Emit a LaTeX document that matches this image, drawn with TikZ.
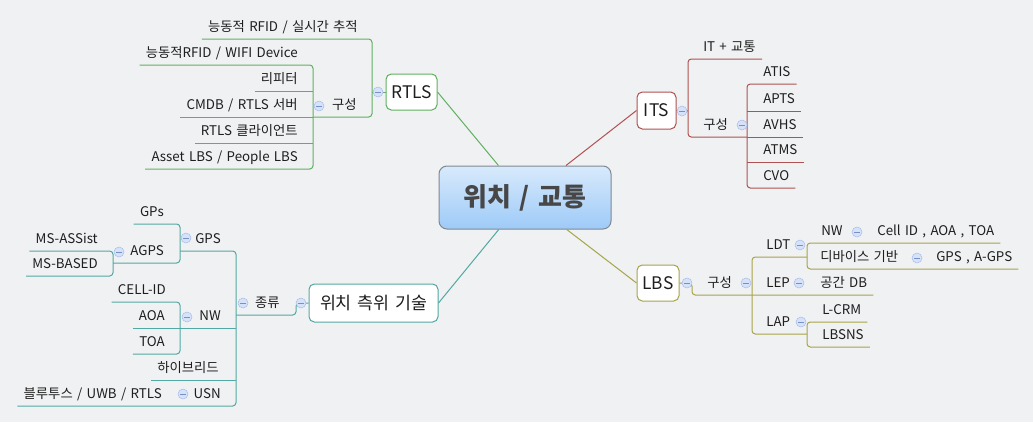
\documentclass[tikz,border=0pt]{standalone}
\usepackage{fontspec}
\setmainfont[WordSpace=1.45]{Noto Sans CJK KR}
\usetikzlibrary{calc}

\definecolor{bgc}{RGB}{240,241,243}
\definecolor{cg}{RGB}{96,176,96}
\definecolor{cr}{RGB}{176,82,82}
\definecolor{ct}{RGB}{82,168,162}
\definecolor{co}{RGB}{168,164,74}
\definecolor{togf}{RGB}{214,226,248}
\definecolor{togd}{RGB}{170,190,236}
\definecolor{togm}{RGB}{120,144,200}
\definecolor{hubt}{RGB}{216,234,252}
\definecolor{hubb}{RGB}{158,202,248}
\definecolor{hubd}{RGB}{128,136,146}
\definecolor{txt}{RGB}{30,30,30}

\tikzset{
  leaf/.style={inner xsep=4.5pt, inner ysep=0pt, text height=12pt, text depth=5.2pt,
    font=\fontsize{10}{12}\selectfont, text=txt},
  branch/.style={draw=#1, fill=white, rounded corners=4pt, line width=0.75pt,
    inner sep=0pt, font=\fontsize{13}{15}\selectfont, text=txt},
  hubbox/.style={draw=hubd, top color=hubt, bottom color=hubb, rounded corners=6pt,
    line width=0.75pt, minimum width=129pt, minimum height=47.25pt,
    font=\fontsize{19.5}{22}\selectfont\bfseries, text=black!72},
  tog/.style={circle, draw=togd, fill=togf, minimum size=7.5pt, inner sep=0pt,
    path picture={\draw[togm, line width=0.6pt]
      ([xshift=-2pt]path picture bounding box.center) -- ([xshift=2pt]path picture bounding box.center);}},
  ln/.style={draw=#1, line width=0.75pt},
  elb/.style={draw=#1, line width=0.75pt, rounded corners=2.5pt}
}

\begin{document}
\begin{tikzpicture}[x=0.75pt, y=-0.75pt]
\useasboundingbox (0,0) rectangle (1033,422);
\fill[bgc] (0,0) rectangle (1033,422);

% centre
\node[hubbox] (hub) at (525,197.5) {위치 / 교통};

% RTLS
\node[branch=cg, minimum width=38.25pt, minimum height=27pt] (rtls) at (411.5,92) {RTLS};
\draw[ln=cg] (rtls.east) -- (hub);
\coordinate (rs) at (372,92);
\coordinate (rc) at (313,117);
\node[leaf, anchor=south east] (rt1) at (364,39) {능동적 RFID / 실시간 추적};
\node[leaf, anchor=south east] (rt2) at (363,117) {구성};
\node[leaf, anchor=south east] (rc1) at (304,65) {능동적RFID / WIFI Device};
\node[leaf, anchor=south east] (rc2) at (304,91) {리피터};
\node[leaf, anchor=south east] (rc3) at (304,117) {CMDB / RTLS 서버};
\node[leaf, anchor=south east] (rc4) at (304,143) {RTLS 클라이언트};
\node[leaf, anchor=south east] (rc5) at (304,169) {Asset LBS / People LBS};
\draw[elb=cg] (rt1.south west) -- (rt1.south -| rs) -- (rt2.south -| rs) -- (rt2.south -| rc);
\draw[ln=cg] (rs) -- (rtls.west);
\draw[elb=cg] (rc1.south west) -- (rc1.south -| rc) -- (rc5.south -| rc) -- (rc5.south west);
\foreach \n in {rc2,rc3,rc4} \draw[ln=cg] (\n.south west) -- (\n.south -| rc);
\node[tog] (t-rtls) at (378,92) {};
\node[tog] (t-rt2) at (319,106) {};

% ITS
\node[branch=cr, minimum width=29.25pt, minimum height=27.75pt] (its) at (656.5,110.5) {ITS};
\draw[ln=cr] (its.west) -- (hub);
\coordinate (is) at (688,111);
\coordinate (ic) at (747,137);
\node[leaf, anchor=south west] (itc) at (697,59) {IT + 교통};
\node[leaf, anchor=south west] (igs) at (697,137) {구성};
\node[leaf, anchor=south west] (atis) at (757,84) {ATIS};
\node[leaf, anchor=south west] (apts) at (757,111) {APTS};
\node[leaf, anchor=south west] (avhs) at (757,137) {AVHS};
\node[leaf, anchor=south west] (atms) at (757,162) {ATMS};
\node[leaf, anchor=south west] (cvo) at (757,188) {CVO};
\draw[elb=cr] (itc.south east) -- (itc.south -| is) -- (igs.south -| is) -- (igs.south -| ic);
\draw[ln=cr] (its.east) -- (is);
\draw[elb=cr] (atis.south east) -- (atis.south -| ic) -- (cvo.south -| ic) -- (cvo.south east);
\foreach \n in {apts,avhs,atms} \draw[ln=cr] (\n.south -| ic) -- (\n.south east);
\node[tog] (t-its) at (682,111) {};
\node[tog] (t-igs) at (742,125) {};

% 위치 측위 기술
\node[branch=ct, minimum width=96.75pt, minimum height=28.5pt] (pos) at (373.5,303) {위치 측위 기술};
\draw[ln=ct] (pos.east) -- (hub);
\coordinate (pj) at (296,303);
\coordinate (ks) at (236,315);
\coordinate (gs) at (180,251);
\coordinate (as) at (113,263);
\coordinate (ns) at (180,328);
\node[leaf, anchor=south east] (kind) at (286,315) {종류};
\node[leaf, anchor=south east] (gps) at (227,251) {GPS};
\node[leaf, anchor=south east] (nw) at (227,328) {NW};
\node[leaf, anchor=south east] (hyb) at (225,380) {하이브리드};
\node[leaf, anchor=south east] (usn) at (227,406) {USN};
\node[leaf, anchor=south east] (gps1) at (170,224) {GPs};
\node[leaf, anchor=south east] (agps) at (170,263) {AGPS};
\node[leaf, anchor=south east] (ms1) at (104,251) {MS-ASSist};
\node[leaf, anchor=south east] (ms2) at (104,276) {MS-BASED};
\node[leaf, anchor=south east] (cell) at (172,302) {CELL-ID};
\node[leaf, anchor=south east] (aoa) at (171,328) {AOA};
\node[leaf, anchor=south east] (toa) at (171,354) {TOA};
\node[leaf, anchor=south east] (blu) at (168,406) {블루투스 / UWB / RTLS};
\draw[elb=ct] (pos.west) -- (pj) -- (pj |- kind.south) -- (kind.south -| ks);
\draw[elb=ct] (gps.south -| gs) -- (gps.south -| ks) -- (usn.south -| ks) -- (blu.south west);
\draw[ln=ct] (nw.south -| ns) -- (nw.south -| ks);
\draw[ln=ct] (hyb.south west) -- (hyb.south -| ks);
\draw[elb=ct] (gps1.south west) -- (gps1.south -| gs) -- (agps.south -| gs) -- (agps.south -| as);
\draw[elb=ct] (ms1.south west) -- (ms1.south -| as) -- (ms2.south -| as) -- (ms2.south west);
\draw[elb=ct] (cell.south west) -- (cell.south -| ns) -- (toa.south -| ns) -- (toa.south west);
\draw[ln=ct] (aoa.south west) -- (aoa.south -| ns);
\node[tog] (t-pos) at (301,303) {};
\node[tog] (t-kind) at (243,303) {};
\node[tog] (t-gps) at (186,238) {};
\node[tog] (t-agps) at (119,252) {};
\node[tog] (t-nw) at (187,317) {};
\node[tog] (t-usn) at (183,394) {};

% LBS
\node[branch=co, minimum width=31.5pt, minimum height=27pt] (lbs) at (658,283) {LBS};
\draw[ln=co] (lbs.west) -- (hub);
\coordinate (lj) at (692,283);
\coordinate (ls) at (752,295);
\coordinate (ld) at (807,295);
\node[leaf, anchor=south west] (lgs) at (701,295) {구성};
\node[leaf, anchor=south west] (ldt) at (760,257) {LDT};
\node[leaf, anchor=south west] (lep) at (760,295) {LEP};
\node[leaf, anchor=south west] (lap) at (760,334) {LAP};
\node[leaf, anchor=south west] (lnw) at (815,243) {NW};
\node[leaf, anchor=south west] (lcell) at (871,243) {Cell ID , AOA , TOA};
\node[leaf, anchor=south west] (ldev) at (814,269) {디바이스 기반};
\node[leaf, anchor=south west] (lgps) at (930,269) {GPS , A-GPS};
\node[leaf, anchor=south west] (ldb) at (814,295) {공간 DB};
\node[leaf, anchor=south west] (lcrm) at (816,322) {L-CRM};
\node[leaf, anchor=south west] (lsns) at (816,347) {LBSNS};
\draw[elb=co] (lbs.east) -- (lj) -- (lj |- lgs.south) -- (ldb.south east);
\draw[elb=co] (ldt.south -| ld) -- (ldt.south -| ls) -- (lap.south -| ls) -- (lap.south -| ld);
\draw[elb=co] (lcell.south east) -- (lnw.south -| ld) -- (ldev.south -| ld) -- (lgps.south east);
\draw[elb=co] (lcrm.south east) -- (lcrm.south -| ld) -- (lsns.south -| ld) -- (lsns.south east);
\node[tog] (t-lbs) at (687,283) {};
\node[tog] (t-lgs) at (746,283) {};
\node[tog] (t-ldt) at (800,245) {};
\node[tog] (t-lnw) at (857,232) {};
\node[tog] (t-ldev) at (917,258) {};
\node[tog] (t-lep) at (799,283) {};
\node[tog] (t-lap) at (801,322) {};
\end{tikzpicture}
\end{document}
